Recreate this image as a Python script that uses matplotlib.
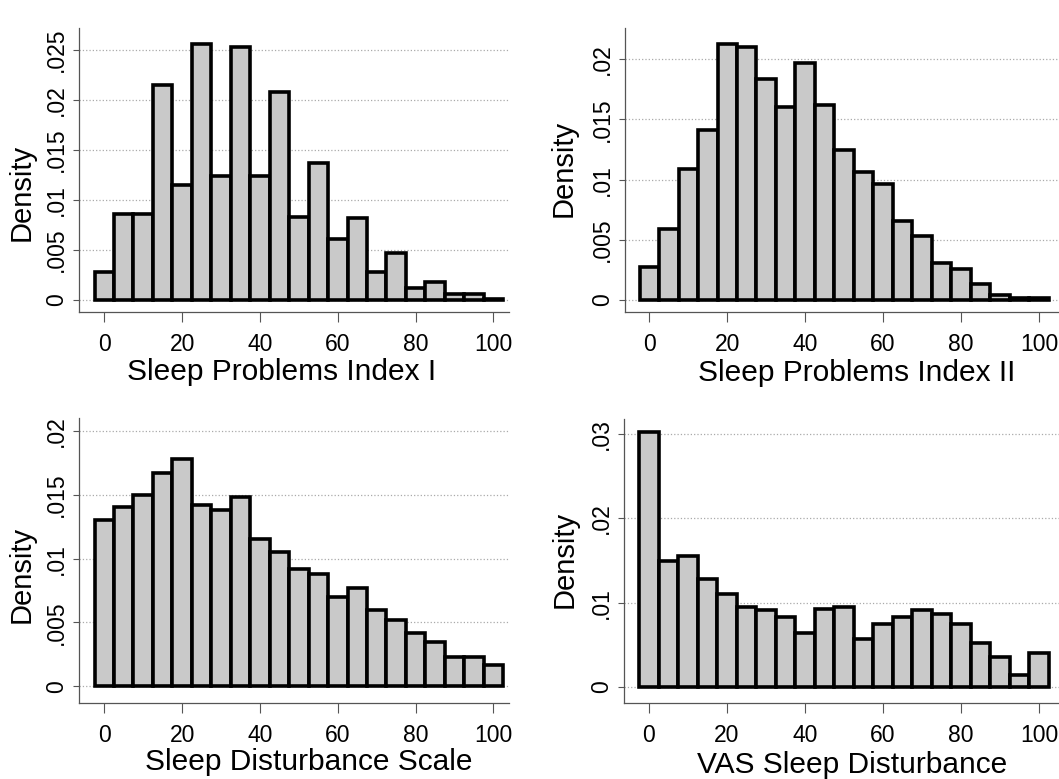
import matplotlib
matplotlib.use("Agg")
import matplotlib.pyplot as plt
import numpy as np

plt.rcParams['font.family'] = ['Liberation Sans', 'DejaVu Sans']

# bin midpoints (width 5)
bins = [0, 5, 10, 15, 20, 25, 30, 35, 40, 45, 50, 55, 60, 65, 70, 75, 80, 85, 90, 95, 100]

spi1 = [0.0028, 0.0086, 0.0086, 0.0215, 0.0115, 0.0256, 0.0124, 0.0253, 0.0124, 0.0208,
        0.0083, 0.0137, 0.0061, 0.0082, 0.0028, 0.0047, 0.0012, 0.0018, 0.0006, 0.0006, 0.0001]
spi2 = [0.0027, 0.0059, 0.0109, 0.0141, 0.0213, 0.0210, 0.0184, 0.0160, 0.0197, 0.0162,
        0.0125, 0.0106, 0.0096, 0.0066, 0.0053, 0.0031, 0.0026, 0.0013, 0.0004, 0.0002, 0.0002]
sds = [0.0130, 0.0140, 0.0150, 0.0167, 0.0178, 0.0142, 0.0138, 0.0148, 0.0115, 0.0105,
       0.0092, 0.0088, 0.0070, 0.0077, 0.0060, 0.0052, 0.0042, 0.0035, 0.0023, 0.0023, 0.0017]
vas = [0.0303, 0.0150, 0.0156, 0.0128, 0.0110, 0.0095, 0.0091, 0.0083, 0.0064, 0.0092,
       0.0095, 0.0057, 0.0075, 0.0083, 0.0091, 0.0087, 0.0075, 0.0052, 0.0036, 0.0014, 0.0040]

xticks = [0, 20, 40, 60, 80, 100]
yt1 = [0, 0.005, 0.01, 0.015, 0.02, 0.025]
yl1 = ['0', '.005', '.01', '.015', '.02', '.025']
yt2 = [0, 0.005, 0.01, 0.015, 0.02]
yl2 = ['0', '.005', '.01', '.015', '.02']
yt4 = [0, 0.01, 0.02, 0.03]
yl4 = ['0', '.01', '.02', '.03']

W, H = 1059, 779
fig = plt.figure(figsize=(W / 100, H / 100), dpi=100)

# (values, xlabel, yticks, ylabels, box px [l, r, bottom, top], xlim, ylim, xlabel pos, ylabel pos)
panels = [
    (spi1, 'Sleep Problems Index I', yt1, yl1, [79, 509, 312, 28], (-6.5, 104), (-0.0012, 0.0272),
     (282, 380), (22, 192)),
    (spi2, 'Sleep Problems Index II', yt2, yl2, [625, 1060, 312, 28], (-6.24, 105.4), (-0.001, 0.0226),
     (857, 381), (564, 168)),
    (sds, 'Sleep Disturbance Scale', yt2, yl2, [79, 509, 703, 418], (-6.5, 104), (-0.0013, 0.021),
     (309, 770), (22, 574)),
    (vas, 'VAS Sleep Disturbance', yt4, yl4, [624, 1060, 703, 419], (-6.4, 105.4), (-0.0019, 0.0318),
     (852, 773), (565, 559)),
]

for vals, xlab, yt, yl, box, xl, ylm, xlp, ylp in panels:
    l, r, b, t = box
    ax = fig.add_axes([l / W, 1 - b / H, (r - l) / W, (b - t) / H])
    ax.bar(bins, vals, width=5, color='#c9c9c9', edgecolor='black', linewidth=2.6, zorder=3)
    ax.set_xlim(*xl)
    ax.set_ylim(*ylm)
    ax.set_xticks(xticks)
    ax.set_xticklabels([str(v) for v in xticks], fontsize=16.5)
    ax.set_yticks(yt)
    ax.set_yticklabels(yl, fontsize=16.5, rotation=90, va='center')
    ax.yaxis.grid(True, linestyle=':', color='#aaaaaa', linewidth=0.9, zorder=0)
    ax.spines['top'].set_visible(False)
    ax.spines['right'].set_visible(False)
    for s in ('left', 'bottom'):
        ax.spines[s].set_color('#555555')
        ax.spines[s].set_linewidth(0.9)
    ax.tick_params(axis='x', length=7, width=0.8, color='#555555', pad=8)
    ax.tick_params(axis='y', length=4, width=0.8, color='#555555', pad=4)
    fig.text(xlp[0] / W, 1 - xlp[1] / H, xlab, fontsize=21.5, ha='center', va='baseline')
    fig.text(ylp[0] / W, 1 - ylp[1] / H, 'Density', fontsize=21, ha='center', va='center', rotation=90)

fig.savefig('out.png', dpi=100)
